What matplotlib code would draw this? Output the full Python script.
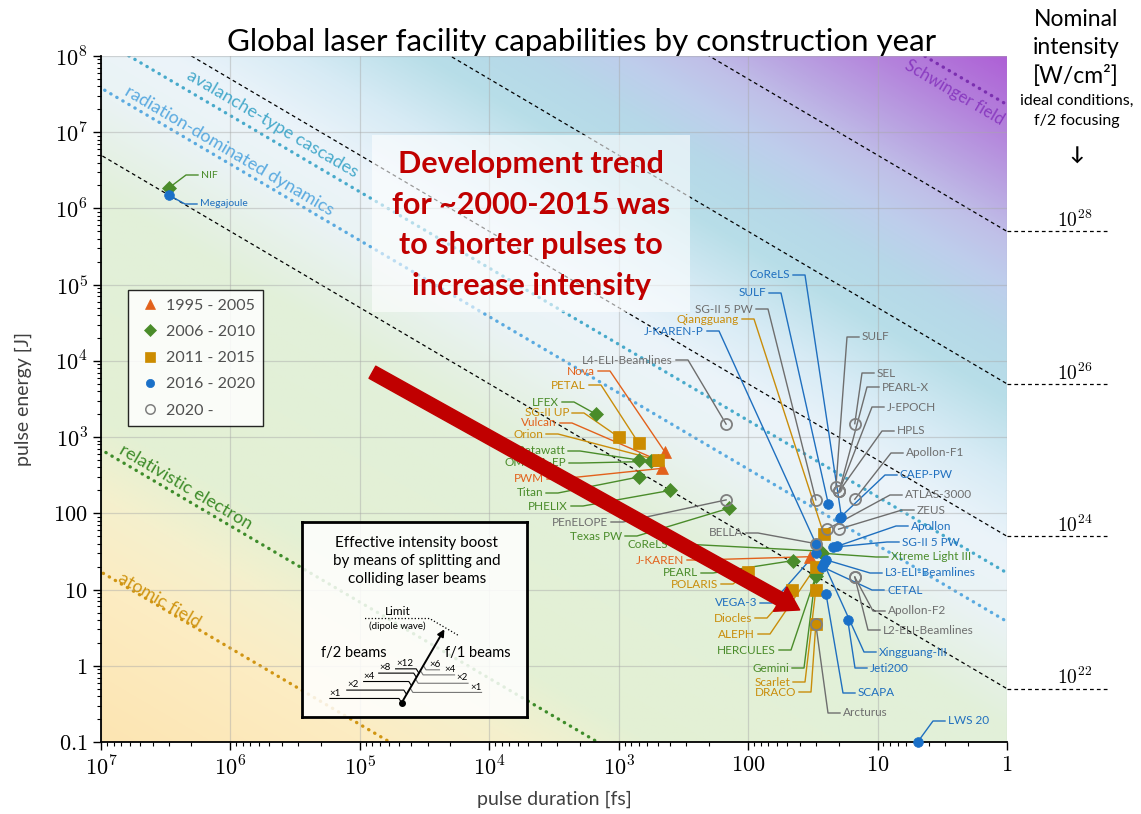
import numpy as np
import matplotlib
matplotlib.use('Agg')
import matplotlib.pyplot as plt
from matplotlib.lines import Line2D
from matplotlib.patches import Rectangle
from matplotlib.ticker import LogLocator, NullFormatter, FuncFormatter

plt.rcParams['font.family'] = ['Lato', 'DejaVu Sans']
plt.rcParams['mathtext.fontset'] = 'cm'

# ---------------- data ----------------
periods = ['1995 - 2005', '2006 - 2010', '2011 - 2015', '2016 - 2020', '2020 -']

names = ['Nova', 'Vulcan', 'PWM', 'J-KAREN',
         'NIF', 'LFEX', 'Z-Petawatt', 'OMEGA-EP', 'Titan', 'PHELIX', 'Texas PW',
         'CoReLS', 'PEARL', 'Xtreme Light III', 'HERCULES', 'Gemini',
         'PETAL', 'SG-II UP', 'Orion', 'Qiangguang', 'POLARIS', 'Diocles', 'ALEPH',
         'Scarlet', 'DRACO',
         'Megajoule', 'CoReLS', 'SULF', 'J-KAREN-P', 'CAEP-PW', 'Apollon', 'SG-II 5 PW',
         'VEGA-3', 'L3-ELI-Beamlines', 'CETAL', 'Xingguang-III', 'Jeti200', 'SCAPA', 'LWS 20',
         'L4-ELI-Beamlines', 'PEnELOPE', 'SG-II 5 PW', 'SULF', 'SEL', 'PEARL-X', 'J-EPOCH',
         'HPLS', 'Apollon-F1', 'ATLAS-3000', 'ZEUS', 'Apollon-F2', 'L2-ELI-Beamlines',
         'Arcturus', 'BELLA']
period_idx = [0] * 4 + [1] * 12 + [2] * 9 + [3] * 14 + [4] * 15

# pulse duration [fs]
duration_fs = [440, 500, 460, 33,
               3.0e6, 1500, 700, 560, 700, 400, 140,
               28, 45, 27, 30, 30,
               700, 1000, 500, 26, 100, 46, 30,
               30, 30,
               3.0e6, 19, 24, 30, 19.5, 20.5, 22,
               30, 25, 27, 26, 17, 25, 4.9,
               148, 148, 30, 21, 15, 19.8, 19.8,
               19.8, 15, 24.5, 20, 15, 15,
               30, 30]
# pulse energy [J]
energy_J = [640, 500, 390, 27,
            1.85e6, 2000, 500, 480, 300, 200, 117,
            32, 24, 30, 15, 16.5,
            830, 1000, 500, 53, 17, 10, 20,
            10, 3.5,
            1.5e6, 89, 132, 40, 88, 37, 36,
            30, 24.5, 20, 22, 4, 8.7, 0.1,
            1480, 150, 150, 220, 1500, 195, 195,
            195, 153, 62, 62, 14.6, 14.6,
            3.5, 40]

# nominal intensity lines [W/cm^2] and physical thresholds
intensity_levels = [1e22, 1e24, 1e26, 1e28]
thr_names = ['atomic field', 'relativistic electron', 'radiation-dominated dynamics',
             'avalanche-type cascades', 'Schwinger field']
thr_intensity = [3.4e16, 1.37e18, 7.6e22, 3.3e23, 4.6e29]
E_PER_I = 5e-23  # J per (W/cm^2 * fs), ideal f/2 focusing

# trend arrow (pulse duration, energy)
trend_start = (8.0e4, 7.1e3)
trend_end = (40, 5.4)

x_ticks = [1e7, 1e6, 1e5, 1e4, 1e3, 100, 10, 1]
y_ticks = [0.1, 1, 10, 100, 1e3, 1e4, 1e5, 1e6, 1e7, 1e8]

# ---------------- layout / style ----------------
label_px = [(595, 371), (557, 423), (544, 479), (684, 560),
            (201, 175), (559, 402), (565, 451), (566, 463), (543, 493), (568, 506), (622, 536),
            (668, 544), (698, 573), (891, 557), (776, 650), (789, 668),
            (586, 385), (569, 413), (543, 434), (739, 319), (718, 584), (752, 618), (755, 634),
            (790, 682), (796, 692),
            (200, 204), (790, 275), (766, 293), (704, 331), (900, 475), (911, 526), (902, 542),
            (757, 603), (885, 573), (887, 590), (879, 652), (870, 668), (858, 693), (948, 721),
            (673, 360), (608, 522), (753, 309), (862, 337), (877, 373), (882, 387), (887, 407),
            (897, 431), (906, 453), (905, 495), (917, 510), (888, 611), (883, 630),
            (843, 713), (743, 533)]
label_side = ['L', 'L', 'L', 'L',
              'R', 'L', 'L', 'L', 'L', 'L', 'L',
              'L', 'L', 'R', 'L', 'L',
              'L', 'L', 'L', 'L', 'L', 'L', 'L',
              'L', 'L',
              'R', 'L', 'L', 'L', 'R', 'R', 'R',
              'L', 'R', 'R', 'R', 'R', 'R', 'R',
              'L', 'L', 'L', 'R', 'R', 'R', 'R',
              'R', 'R', 'R', 'R', 'R', 'R',
              'R', 'L']

markers = ['^', 'D', 's', 'o', 'o']
mcolors = ['#E2611B', '#4A8C2A', '#CC8C00', '#1A70C8', '#7F7F7F']
msizes = [9, 7, 8.5, 7, 8]
lcolors = ['#E2611B', '#4A8C2A', '#C98D0A', '#1F6FBF', '#6E6E6E']

thr_colors = ['#D09512', '#3E8C2A', '#5AAAE0', '#48AACB', '#7B2FB0']
thr_text_colors = ['#D09512', '#3E8C2A', '#5AAAE0', '#48AACB', '#8A3CC0']
thr_text_px = [(159, 600), (186, 487), (229, 151), (272, 124), (954, 93)]
thr_fs = [13, 13, 13, 13, 12]

W, H = 1141, 814
fig = plt.figure(figsize=(W / 100, H / 100), dpi=100)
pos = [101 / W, 1 - 742 / H, (1007 - 101) / W, (742 - 56) / H]

# gradient background, coloured by nominal intensity
bg = fig.add_axes(pos)
U, V = np.meshgrid(np.linspace(0, 1, 500), np.linspace(0, 1, 400))
logI = (-1 + 9 * V) - (7 - 7 * U) - np.log10(E_PER_I)
stops = [14, 16.3, 17.5, 18.5, 21.5, 22.8, 23.8, 24.8, 25.8, 26.6, 27.3, 27.9, 28.5, 29.3, 30.3]
cols = np.array([(252, 228, 176), (253, 236, 194), (245, 240, 205), (228, 240, 212),
                 (226, 240, 218), (234, 243, 244), (236, 244, 250), (215, 235, 245),
                 (184, 222, 232), (182, 216, 232), (190, 206, 236), (192, 192, 232),
                 (186, 166, 226), (180, 132, 220), (174, 96, 214)]) / 255
img = np.stack([np.interp(logI, stops, cols[:, k]) for k in range(3)], axis=-1)
bg.imshow(img, origin='lower', extent=[0, 1, 0, 1], aspect='auto')
bg.axis('off')

ax = fig.add_axes(pos)
ax.set_facecolor('none')
ax.set_xscale('log')
ax.set_yscale('log')
ax.set_xlim(1e7, 1)
ax.set_ylim(0.1, 1e8)
ax.autoscale(False)


def px(x, y):
    return ax.transData.inverted().transform((x, H - y))


p1 = ax.transData.transform((1e4, 1e2))
p2 = ax.transData.transform((1e3, 1e1))
slope_angle = np.degrees(np.arctan2(p2[1] - p1[1], p2[0] - p1[0]))

ax.grid(True, which='major', color='#a8a8a8', alpha=0.45, lw=0.9, zorder=0.5)

tau = np.logspace(-1, 8, 400)
for I in intensity_levels:
    ax.plot(tau, E_PER_I * I * tau, color='k', ls=(0, (3, 2.5)), lw=0.9, zorder=1)
    e1 = E_PER_I * I
    ax.plot([1, 0.169], [e1, e1], color='k', ls=(0, (3, 2.5)), lw=0.9, clip_on=False)
    ax.text(0.30, e1 * 1.04, r'$10^{%d}$' % round(np.log10(I)), ha='center', va='bottom',
            fontsize=14, clip_on=False)

for nm, I, c, tc, (tx, ty), fs in zip(thr_names, thr_intensity, thr_colors, thr_text_colors,
                                      thr_text_px, thr_fs):
    ax.plot(tau, E_PER_I * I * tau, color=c, ls=(0, (0.1, 2.0)), lw=2.4,
            dash_capstyle='round', zorder=1.5)
    x, y = px(tx, ty)
    ax.text(x, y, nm, color=tc, fontsize=fs, rotation=slope_angle, rotation_mode='anchor',
            ha='center', va='center', zorder=2)

# text box with trend
ax.add_patch(Rectangle(((372 - 101) / 906, 1 - (312 - 56) / 686), 318 / 906, 177 / 686,
                       transform=ax.transAxes, fc='white', ec='none', alpha=0.6, zorder=3))
x, y = px(531, 225)
ax.text(x, y, 'Development trend\nfor ~2000-2015 was\nto shorter pulses to\nincrease intensity',
        color='#C00000', fontsize=22, fontweight='bold', ha='center', va='center',
        linespacing=1.55, zorder=3.5)

# leaders and labels
for i, nm in enumerate(names):
    p = period_idx[i]
    col = lcolors[p]
    lx, ly = label_px[i]
    mx, my = ax.transData.transform((duration_fs[i], energy_J[i]))
    if label_side[i] == 'L':
        xs, ha = [lx + 3, lx + 15, mx], 'right'
    else:
        xs, ha = [lx - 3, lx - 15, mx], 'left'
    ys = [H - ly, H - ly, my]
    pts = ax.transData.inverted().transform(np.column_stack([xs, ys]))
    ax.plot(pts[:, 0], pts[:, 1], color=col, lw=1, zorder=4)
    tx, ty = px(lx, ly)
    ax.text(tx, ty, nm, ha=ha, va='center', color=col,
            fontsize=7.5 if nm in ('NIF', 'Megajoule') else 8.5, zorder=5)

for p in range(5):
    idx = [i for i in range(len(names)) if period_idx[i] == p]
    d = np.array(duration_fs)[idx]
    e = np.array(energy_J)[idx]
    ax.plot(d, e, ls='none', marker=markers[p], ms=msizes[p],
            mfc='none' if p == 4 else mcolors[p], mec=mcolors[p],
            mew=1.3 if p == 4 else 0.5, zorder=6 if p == 4 else 5, clip_on=False)

ax.annotate('', xy=trend_end, xytext=trend_start,
            arrowprops=dict(arrowstyle='simple,head_length=1.6,head_width=2.0,tail_width=1.0',
                            mutation_scale=10, color='#C00000', shrinkA=0, shrinkB=0),
            zorder=7)

handles = [Line2D([], [], ls='none', marker=markers[p], ms=msizes[p] * 0.85,
                  mfc='none' if p == 4 else mcolors[p], mec=mcolors[p],
                  mew=1.1 if p == 4 else 0.5) for p in range(5)]
leg = ax.legend(handles, periods, loc='upper left', bbox_to_anchor=(0.0298, 0.659),
                fontsize=11.5, fancybox=False, edgecolor='black', framealpha=0.85,
                labelspacing=0.75, handletextpad=0.2, handlelength=1.6, borderpad=0.55,
                borderaxespad=0)
leg.get_frame().set_linewidth(1)
leg.set_zorder(10)
for t in leg.get_texts():
    t.set_color('#505050')

# axes decoration
ax.set_xticks(x_ticks)
ax.set_yticks(y_ticks)
ax.xaxis.set_minor_locator(LogLocator(base=10, subs=np.arange(2, 10), numticks=100))
ax.yaxis.set_minor_locator(LogLocator(base=10, subs=np.arange(2, 10), numticks=100))
ax.xaxis.set_minor_formatter(NullFormatter())
ax.yaxis.set_minor_formatter(NullFormatter())


def fmt(val, pos):
    if val >= 1000:
        return r'$10^{%d}$' % round(np.log10(val))
    return r'$%g$' % val


ax.xaxis.set_major_formatter(FuncFormatter(fmt))
ax.yaxis.set_major_formatter(FuncFormatter(fmt))
ax.tick_params(which='major', length=6, width=1, labelsize=16, direction='out')
ax.tick_params(which='minor', length=3, width=0.8, direction='out')
for s in ['top', 'right']:
    ax.spines[s].set_visible(False)
for s in ['left', 'bottom']:
    ax.spines[s].set_linewidth(1.3)
ax.set_xlabel('pulse duration [fs]', fontsize=14, color='#404040', labelpad=8)
ax.set_ylabel('pulse energy [J]', fontsize=14, color='#404040', labelpad=15)

fig.text(582 / W, 1 - 42 / H, 'Global laser facility capabilities by construction year',
         ha='center', va='center', fontsize=22.5)
fig.text(1076 / W, 1 - 9 / H, 'Nominal\nintensity\n[W/cm²]', ha='center', va='top',
         fontsize=16.5, linespacing=1.4)
fig.text(1077 / W, 1 - 94 / H, 'ideal conditions,\nf/2 focusing', ha='center', va='top',
         fontsize=11.5, linespacing=1.5)
fig.text(1077 / W, 1 - 155 / H, '↓', ha='center', va='center', fontsize=14, fontweight='bold')

# inset: intensity boost by splitting beams
ins = fig.add_axes([302 / W, 1 - 717 / H, 225 / W, 195 / H])
ins.set_xlim(0, 1)
ins.set_ylim(0, 1)
ins.set_xticks([])
ins.set_yticks([])
ins.patch.set_facecolor('white')
ins.patch.set_alpha(0.85)
for s in ins.spines.values():
    s.set_linewidth(2)
ins.text(0.51, 0.80, 'Effective intensity boost\nby means of splitting and\ncolliding laser beams',
         ha='center', va='center', fontsize=11, linespacing=1.4)
dot = (0.443, 0.073)
tip = (0.633, 0.450)


def on_arrow(v):
    return dot[0] + (v - dot[1]) * (tip[0] - dot[0]) / (tip[1] - dot[1])


ins.annotate('', xy=tip, xytext=dot,
             arrowprops=dict(arrowstyle='-|>', lw=1.4, color='k', mutation_scale=10,
                             shrinkA=0, shrinkB=0))
ins.plot(*dot, 'ko', ms=4)
ins.plot([0.28, 0.567, 0.70], [0.505, 0.505, 0.415], color='k', ls=':', lw=0.9)
ins.text(0.424, 0.515, 'Limit', ha='center', va='bottom', fontsize=8.5)
ins.text(0.424, 0.464, '(dipole wave)', ha='center', va='center', fontsize=7)
ins.text(0.229, 0.329, 'f/2 beams', ha='center', va='center', fontsize=10.5)
ins.text(0.783, 0.329, 'f/1 beams', ha='center', va='center', fontsize=10.5)

left_lv = ['×1', '×2', '×4', '×8', '×12']
left_v = [0.095, 0.138, 0.182, 0.225, 0.247]
left_u0 = [0.124, 0.199, 0.274, 0.341, 0.416]
left_lu = [0.147, 0.229, 0.299, 0.371, 0.458]
drop = 0.022
for lab, vv, u0, lu in zip(left_lv, left_v, left_u0, left_lu):
    ue = on_arrow(vv - drop)
    ins.plot([u0, ue - 0.012, ue], [vv, vv, vv - drop], color='k', lw=0.8)
    ins.text(lu, vv + 0.004, lab, ha='center', va='bottom', fontsize=7)
right_lv = ['×6', '×4', '×2', '×1']
right_v = [0.242, 0.216, 0.173, 0.126]
right_u1 = [0.611, 0.678, 0.738, 0.798]
right_lu = [0.593, 0.656, 0.713, 0.775]
for lab, vv, u1, lu in zip(right_lv, right_v, right_u1, right_lu):
    us = on_arrow(vv + drop)
    ins.plot([us, us + 0.012, u1], [vv + drop, vv, vv], color='#777777', lw=0.8)
    ins.text(lu, vv + 0.004, lab, ha='center', va='bottom', fontsize=7)

fig.savefig('out.png', dpi=100)
